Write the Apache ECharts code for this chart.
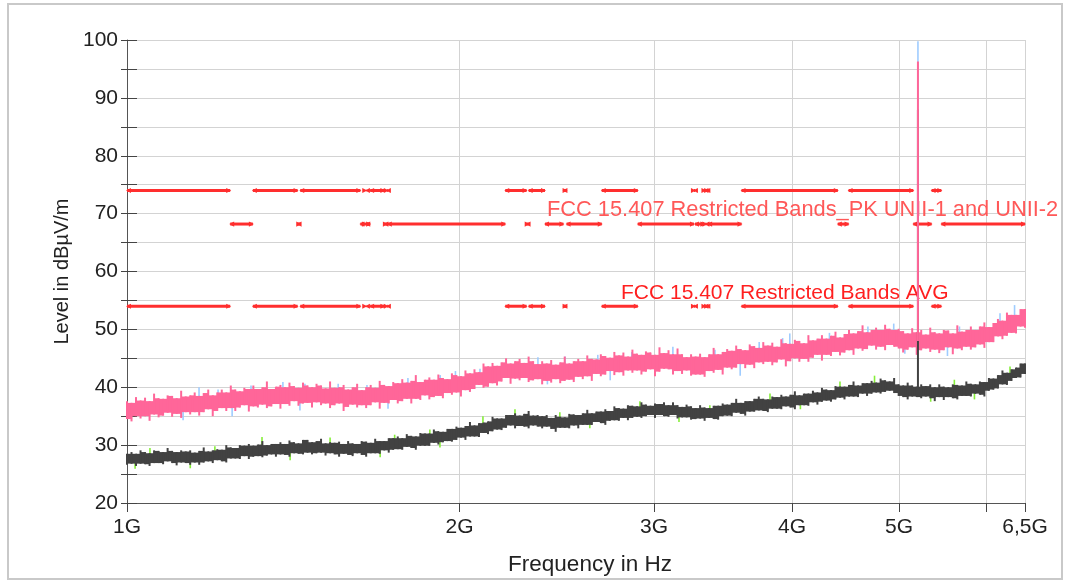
<!DOCTYPE html>
<html>
<head>
<meta charset="utf-8">
<script src="https://cdn.jsdelivr.net/npm/echarts@6/dist/echarts.min.js"></script>
<style>
  html, body { margin: 0; padding: 0; background: #ffffff; }
  #chart { width: 1065px; height: 582px; }
</style>
</head>
<body>
<div id="chart"></div>
<script>
// Sweep: 200 log-spaced points from 1 GHz to 6.5 GHz (frequencies in GHz)
const sweepStart = 1.0;
const sweepStop = 6.5;
const sweepPoints = 200;

// Peak detector trace: upper / lower edge of the noise band per sweep point (dBµV/m)
const pkUpper = [
  37.6,37.3,38.3,37.7,38.2,37.6,38.9,38.1,38.0,38.6, 38.5,38.1,39.4,38.4,38.6,39.1,38.5,39.0,39.6,38.6,
  39.1,39.6,39.1,40.3,39.6,39.3,39.9,39.7,40.3,39.7, 40.0,41.0,39.7,40.1,40.4,40.0,40.8,40.2,39.9,40.8,
  40.3,40.0,40.6,40.3,39.8,41.0,39.9,40.0,40.4,39.6, 40.0,40.6,39.5,40.0,40.4,39.9,41.1,40.4,40.2,40.9,
  40.7,41.4,40.8,41.1,42.1,40.9,41.3,41.7,41.3,42.2, 41.6,41.4,42.4,42.1,41.9,42.9,42.4,43.1,42.6,44.1,
  43.6,44.2,43.7,44.3,45.0,44.1,44.5,44.9,44.2,45.3, 44.5,44.0,44.5,44.1,44.7,43.9,44.3,45.3,44.1,44.5,
  44.9,44.5,45.5,44.9,44.8,45.7,45.4,45.1,46.1,45.5, 46.0,45.3,46.5,45.8,45.6,46.2,46.0,45.6,46.9,45.9,
  46.4,45.7,46.7,45.7,45.2,45.7,45.3,45.8,45.2,45.7, 46.8,45.7,46.1,46.6,46.3,47.2,46.6,46.4,47.4,47.1,
  46.8,47.8,47.2,47.7,47.0,48.3,47.6,47.5,48.2,48.0, 47.6,49.0,48.1,48.4,49.0,48.4,48.9,49.6,48.6,49.2,
  49.9,49.3,49.7,50.7,49.5,49.9,50.3,49.9,50.8,50.1, 49.9,50.1,49.7,49.3,50.2,49.5,49.9,49.1,50.3,49.5,
  49.3,49.9,49.8,49.3,50.7,49.6,49.9,50.5,49.9,50.5, 51.2,50.4,51.1,51.8,51.5,52.9,52.5,52.5,53.5,53.5
];
const pkLower = [
  34.5,34.1,35.0,34.6,35.0,34.2,35.3,34.8,35.1,35.6, 34.9,35.4,34.7,35.7,35.3,35.7,35.1,35.7,36.2,35.0,
  35.9,36.4,35.9,36.4,35.9,36.5,36.9,35.8,36.7,36.5, 37.0,36.4,36.7,37.1,36.3,37.1,36.8,37.6,36.8,37.2,
  37.3,36.5,37.4,36.9,37.2,36.4,36.9,37.2,35.9,36.6, 37.0,36.5,36.9,36.4,36.9,37.4,36.3,37.3,37.2,37.8,
  37.2,37.6,38.0,37.2,38.0,37.8,38.6,37.9,38.3,38.5, 38.1,39.0,38.7,39.1,38.4,39.5,39.2,39.7,40.4,39.9,
  40.1,40.7,40.3,41.0,41.6,40.6,41.5,41.2,41.6,40.9, 41.2,41.4,40.5,41.1,40.8,41.4,40.7,41.1,41.3,40.9,
  41.8,41.4,41.9,41.1,42.3,41.9,42.2,42.8,42.1,42.6, 42.0,42.9,42.5,42.9,42.2,42.7,43.1,41.9,42.7,43.2,
  43.1,42.2,42.8,42.3,42.9,42.0,42.2,42.2,41.8,42.8, 42.5,43.0,42.2,43.4,43.1,43.4,44.0,43.3,43.9,43.3,
  44.3,44.0,44.4,43.8,44.3,44.8,43.6,44.5,45.0,44.4, 44.9,44.4,45.1,45.6,44.6,45.6,45.4,46.1,45.5,46.0,
  46.4,45.6,46.7,46.3,46.6,47.2,46.5,47.0,46.4,47.3, 47.0,46.7,46.0,46.5,46.9,45.6,46.4,46.7,46.1,46.5,
  45.9,46.4,46.9,45.7,46.7,46.4,47.0,46.5,46.9,47.4, 46.8,47.8,47.8,48.8,48.3,48.9,49.4,49.3,50.5,50.3
];

// Average detector trace: upper / lower edge per sweep point (dBµV/m)
const avUpper = [
  28.5,28.8,28.5,29.1,28.8,28.6,29.1,29.0,28.8,29.5, 29.0,28.8,29.1,28.9,29.1,28.7,29.0,29.6,28.9,29.1,
  29.3,29.2,30.0,29.6,29.5,30.0,29.9,30.2,29.9,30.1, 30.7,30.0,30.2,30.2,30.5,30.2,30.8,30.5,30.3,30.9,
  30.9,30.5,30.7,31.1,30.3,30.5,30.4,30.6,30.2,30.7, 30.3,30.2,30.7,30.6,30.4,31.1,30.7,30.7,31.2,31.2,
  31.5,31.2,31.9,31.6,31.5,32.1,32.0,32.0,32.7,32.4, 32.3,32.8,32.8,33.2,33.0,33.3,34.0,33.4,33.8,33.9,
  34.1,34.9,34.6,34.6,35.2,35.2,35.5,35.1,35.4,35.9, 35.1,35.2,35.0,35.2,34.7,35.2,34.9,34.8,35.4,35.3,
  35.2,35.5,36.1,35.5,35.8,35.8,36.2,35.9,36.7,36.4, 36.3,36.9,36.8,36.7,37.4,37.0,36.8,37.2,37.1,37.4,
  36.9,37.4,36.9,36.6,37.0,36.7,36.4,36.9,36.5,36.4, 36.8,36.8,37.2,37.0,37.3,38.0,37.3,37.6,37.6,38.0,
  38.4,38.0,37.9,38.4,38.3,38.7,38.4,38.7,39.3,38.6, 38.9,38.9,39.4,39.1,39.9,39.6,39.5,40.2,40.1,40.1,
  40.4,41.0,40.3,40.7,40.7,41.1,40.8,41.5,41.2,41.0, 41.6,40.5,40.3,40.8,40.3,40.1,40.5,40.2,40.5,40.0,
  40.5,40.1,40.0,40.5,40.4,40.3,41.0,40.6,40.5,41.0, 40.9,41.6,41.5,42.1,42.9,42.5,43.1,43.4,44.1,44.1
];
const avLower = [
  26.6,26.8,26.4,26.8,26.7,26.4,26.9,26.9,26.7,27.2, 26.9,26.5,27.0,26.9,26.6,27.0,26.6,27.0,27.2,26.9,
  27.4,27.2,27.0,27.7,27.7,27.6,28.1,27.6,28.0,28.1, 27.9,28.2,28.4,28.0,28.4,28.3,28.0,28.6,28.5,28.4,
  28.7,28.4,28.6,28.7,28.2,28.6,28.4,28.0,28.5,28.3, 28.1,28.6,28.3,28.0,28.6,28.6,28.5,29.1,28.7,29.2,
  29.3,29.2,29.7,29.5,29.2,29.9,29.9,29.9,30.4,30.1, 30.5,30.7,30.6,30.9,31.3,30.9,31.5,31.5,31.4,32.1,
  31.9,32.4,32.7,32.6,33.0,33.4,32.9,33.3,33.2,32.9, 33.4,33.2,32.9,33.2,32.8,32.3,33.0,33.0,32.9,33.4,
  32.9,33.5,33.5,33.5,34.0,33.8,33.5,34.2,34.3,34.2, 34.7,34.3,34.7,34.9,34.7,35.0,35.2,34.7,35.2,35.0,
  34.9,35.2,34.6,34.8,34.8,34.4,34.5,34.6,34.2,34.7, 34.5,34.4,35.0,35.1,35.0,35.6,35.4,35.1,35.8,35.8,
  36.0,35.9,35.7,36.3,36.3,36.2,36.7,36.5,36.2,36.9, 36.9,36.8,37.4,37.0,37.5,37.7,37.5,37.9,38.2,37.9,
  38.4,38.4,38.3,38.9,38.5,38.9,39.1,38.9,39.2,39.4, 39.0,38.5,38.3,37.9,38.4,38.3,38.1,38.4,38.1,37.6,
  38.3,37.8,38.3,38.1,37.9,38.5,38.5,38.4,38.9,38.7, 38.4,39.4,39.6,39.8,40.5,40.4,41.1,41.6,41.7,42.3
];

// Max-hold excursions beyond the peak trace: [GHz, low dBµV/m, high dBµV/m]
const pkHoldSpikes = [
  [1.124,34.3,36.5],[1.162,37.5,40.0],[1.209,37.5,39.6],[1.245,35.0,37.5],[1.295,38.0,40.3],
  [1.384,38.5,40.9],[1.434,36.0,38.5],[1.449,38.5,40.6],[1.553,38.5,40.6],[1.649,38.5,40.4],
  [1.723,36.3,38.5],[1.796,39.5,41.6],[1.921,40.0,42.1],[1.983,40.5,42.8],[2.043,39.2,41.5],
  [2.087,41.0,43.2],[2.355,43.0,45.2],[2.402,40.5,43.0],[2.492,43.0,45.3],[2.668,43.5,45.6],
  [2.738,41.2,43.5],[2.864,44.0,46.1],[3.12,44.5,47.0],[3.406,44.5,46.5],[3.59,42.0,44.5],
  [3.735,45.5,47.8],[3.922,46.0,48.5],[3.981,46.5,49.3],[4.324,47.0,49.4],[4.685,48.5,50.5],
  [4.944,49.0,51.0],[5.06,45.8,48.0],[5.2,48.0,99.8],[5.53,45.4,48.0],[5.67,48.5,50.5],
  [6.17,50.5,52.8],[6.36,52.0,54.2]
];
// Max-hold excursions beyond the average trace: [GHz, low, high]
const avHoldSpikes = [
  [1.017,25.9,27.5],[1.049,28.0,29.5],[1.141,26.0,27.8],[1.201,28.0,29.8],[1.325,29.0,31.4],
  [1.405,27.4,29.0],[1.527,29.5,31.3],[1.695,27.9,29.5],[1.747,30.0,31.8],[1.88,31.0,32.7],
  [1.92,29.6,31.5],[2.10,33.0,35.0],[2.245,34.0,36.2],[2.465,34.0,35.7],[2.624,32.9,34.5],
  [2.913,35.5,37.6],[3.16,34.0,35.5],[3.37,35.5,36.9],[3.82,36.5,38.9],[4.07,36.2,37.5],
  [4.42,39.0,41.0],[4.75,40.0,42.0],[5.34,37.5,39.0],[5.61,39.0,41.3],[5.85,37.9,39.5],
  [6.30,41.5,43.6]
];
// Carrier at 5.2 GHz: [GHz, low, high]
const pkCarrier = [[5.2, 48.0, 96.3]];
const avCarrier = [[5.2, 39.5, 88.0]];

// FCC 15.205 restricted bands inside the sweep, and the bands in between (GHz)
const restrictedBands = [
  [1.0,1.24],[1.3,1.427],[1.435,1.6265],[1.6455,1.6465],[1.66,1.71],[1.7188,1.7222],
  [2.2,2.3],[2.31,2.39],[2.4835,2.5],[2.69,2.9],[3.26,3.267],[3.332,3.339],[3.3458,3.358],
  [3.6,4.4],[4.5,5.15],[5.35,5.46]
];
const otherBands = [
  [1.24,1.3],[1.427,1.435],[1.6265,1.6455],[1.6465,1.66],[1.71,1.7188],[1.7222,2.2],
  [2.3,2.31],[2.39,2.4835],[2.5,2.69],[2.9,3.26],[3.267,3.332],[3.339,3.3458],[3.358,3.6],
  [4.4,4.5],[5.15,5.35],[5.46,6.5]
];
const limitPkRestricted = 74.0;
const limitPkUnii = 68.2;
const limitAvg = 54.0;
const limitPkLabel = 'FCC 15.407 Restricted Bands_PK UNII-1 and UNII-2';
const limitAvgLabel = 'FCC 15.407 Restricted Bands AVG';

// Axes
const xTickValues = [1, 2, 3, 4, 5, 6, 6.5];
const xLabelValues = [1, 2, 3, 4, 5, 6.5];
const xLabelTexts = ['1G', '2G', '3G', '4G', '5G', '6,5G'];
const yMin = 20, yMax = 100, yStep = 5, yLabelStep = 10;
const xTitle = 'Frequency in Hz';
const yTitle = 'Level in dBµV/m';

const FONT = '"Liberation Sans", Arial, sans-serif';
const sweepFreqs = [];
for (let i = 0; i < sweepPoints; i++) {
  sweepFreqs.push(sweepStart * Math.pow(sweepStop / sweepStart, i / (sweepPoints - 1)));
}

// Trace band: a solid core spanning the range shared by two neighbouring sweep
// points, plus a thin vertical stroke at every sweep point over its full range
function bandRender(upper, lower, color, w) {
  const n = sweepFreqs.length;
  return function (params, api) {
    const i = params.dataIndex;
    const children = [];
    const top = api.coord([sweepFreqs[i], upper[i]]);
    const bot = api.coord([sweepFreqs[i], lower[i]]);
    if (i < n - 1) {
      const hi = Math.min(upper[i], upper[i + 1]);
      const lo = Math.max(lower[i], lower[i + 1]);
      const a = api.coord([sweepFreqs[i], hi]);
      const b = api.coord([sweepFreqs[i + 1], lo]);
      children.push({
        type: 'rect',
        shape: { x: a[0], y: a[1], width: b[0] - a[0] + 0.6, height: b[1] - a[1] },
        style: { fill: color }
      });
    }
    children.push({
      type: 'rect',
      shape: { x: top[0] - w / 2, y: top[1], width: w, height: bot[1] - top[1] },
      style: { fill: color }
    });
    return { type: 'group', children: children };
  };
}
// Thin vertical excursion
function spikeRender(color, w) {
  return function (params, api) {
    const top = api.coord([api.value(0), api.value(2)]);
    const bot = api.coord([api.value(0), api.value(1)]);
    return {
      type: 'rect',
      shape: { x: top[0] - w / 2, y: top[1], width: w, height: bot[1] - top[1] },
      style: { fill: color }
    };
  };
}
// Limit segment with small arrow heads at both ends
function limitRender(color) {
  return function (params, api) {
    const a = api.coord([api.value(0), api.value(2)]);
    const b = api.coord([api.value(1), api.value(2)]);
    const h = 2.6, d = 4;
    return {
      type: 'group',
      children: [
        { type: 'line', shape: { x1: a[0], y1: a[1], x2: b[0], y2: b[1] },
          style: { stroke: color, lineWidth: 3 } },
        { type: 'polygon', shape: { points: [[a[0] - 1, a[1]], [a[0] + d, a[1] - h], [a[0] + d, a[1] + h]] },
          style: { fill: color } },
        { type: 'polygon', shape: { points: [[b[0] + 1, b[1]], [b[0] - d, b[1] - h], [b[0] - d, b[1] + h]] },
          style: { fill: color } }
      ]
    };
  };
}

const LIMIT_COLOR = '#ff2e2e';
const PK_COLOR = '#ff6699';
const PK_HOLD_COLOR = '#9fccff';
const AV_COLOR = '#424242';
const AV_HOLD_COLOR = '#86ee3a';

function limitSeries(bands, level) {
  return {
    type: 'custom', z: 2, silent: true,
    renderItem: limitRender(LIMIT_COLOR),
    encode: { x: [0, 1], y: 2 },
    data: bands.map(b => [b[0], b[1], level])
  };
}

const chart = echarts.init(document.getElementById('chart'));
chart.setOption({
  animation: false,
  backgroundColor: '#ffffff',
  grid: { left: 127, right: 40, top: 40, bottom: 79 },
  xAxis: {
    type: 'log', logBase: 10, min: sweepStart, max: sweepStop,
    axisLine: { show: true, lineStyle: { color: '#555555', width: 1 } },
    axisTick: { show: true, length: 9, lineStyle: { color: '#444444' }, customValues: xTickValues },
    axisLabel: {
      customValues: xLabelValues, margin: 14,
      fontSize: 21, fontFamily: FONT, color: '#222222',
      formatter: function (v) {
        for (let k = 0; k < xLabelValues.length; k++) {
          if (Math.abs(xLabelValues[k] - v) < 1e-6) return xLabelTexts[k];
        }
        return '';
      }
    },
    splitLine: { show: true, lineStyle: { color: '#d3d3d3', width: 1 } },
    minorTick: { show: false }, minorSplitLine: { show: false },
    name: xTitle, nameLocation: 'middle', nameGap: 50,
    nameTextStyle: { fontSize: 22.5, fontFamily: FONT, color: '#222222', padding: [0, 0, 0, 28] }
  },
  yAxis: [{
    type: 'value', min: yMin, max: yMax, interval: yStep,
    axisLine: { show: true, lineStyle: { color: '#555555', width: 1 } },
    axisTick: { show: true, length: 6, lineStyle: { color: '#444444' } },
    axisLabel: {
      margin: 9, fontSize: 21, fontFamily: FONT, color: '#222222',
      formatter: v => (v % yLabelStep === 0 ? String(v) : '')
    },
    splitLine: { show: true, lineStyle: { color: '#d3d3d3', width: 1 } },
    name: yTitle, nameLocation: 'middle', nameGap: 55,
    nameTextStyle: { fontSize: 20, fontFamily: FONT, color: '#222222' }
  }, {
    type: 'value', min: yMin, max: yMax, interval: yStep, position: 'left',
    axisLine: { show: false },
    axisTick: { show: true, inside: true, length: 10, lineStyle: { color: '#444444' } },
    axisLabel: { show: false },
    splitLine: { show: false }
  }],
  graphic: [
    { type: 'rect', silent: true, z: 0,
      shape: { x: 8, y: 4, width: 1054, height: 575 },
      style: { fill: 'none', stroke: '#c9c9c9', lineWidth: 2 } },
    { type: 'text', silent: true, z: 1, x: 547, y: 210,
      style: { text: limitPkLabel, fill: '#ff5858', font: '21.8px ' + FONT, verticalAlign: 'middle' } },
    { type: 'text', silent: true, z: 1, x: 621, y: 293,
      style: { text: limitAvgLabel, fill: '#ff1f1f', font: '21px ' + FONT, verticalAlign: 'middle' } }
  ],
  series: [
    limitSeries(restrictedBands, limitPkRestricted),
    limitSeries(otherBands, limitPkUnii),
    limitSeries(restrictedBands, limitAvg),
    { type: 'custom', z: 3, silent: true, renderItem: spikeRender(PK_HOLD_COLOR, 1.6),
      encode: { x: 0, y: [1, 2] }, data: pkHoldSpikes },
    { type: 'custom', z: 4, silent: true, renderItem: bandRender(pkUpper, pkLower, PK_COLOR, 2),
      encode: { x: 0, y: [1, 2] }, data: sweepFreqs.map((f, i) => [f, pkLower[i], pkUpper[i]]) },
    { type: 'custom', z: 5, silent: true, renderItem: spikeRender(AV_HOLD_COLOR, 1.6),
      encode: { x: 0, y: [1, 2] }, data: avHoldSpikes },
    { type: 'custom', z: 6, silent: true, renderItem: spikeRender(AV_COLOR, 2),
      encode: { x: 0, y: [1, 2] }, data: avCarrier },
    { type: 'custom', z: 6, silent: true, renderItem: bandRender(avUpper, avLower, AV_COLOR, 2),
      encode: { x: 0, y: [1, 2] }, data: sweepFreqs.map((f, i) => [f, avLower[i], avUpper[i]]) },
    { type: 'custom', z: 7, silent: true, renderItem: spikeRender(PK_COLOR, 2),
      encode: { x: 0, y: [1, 2] }, data: pkCarrier }
  ]
});
</script>
</body>
</html>
